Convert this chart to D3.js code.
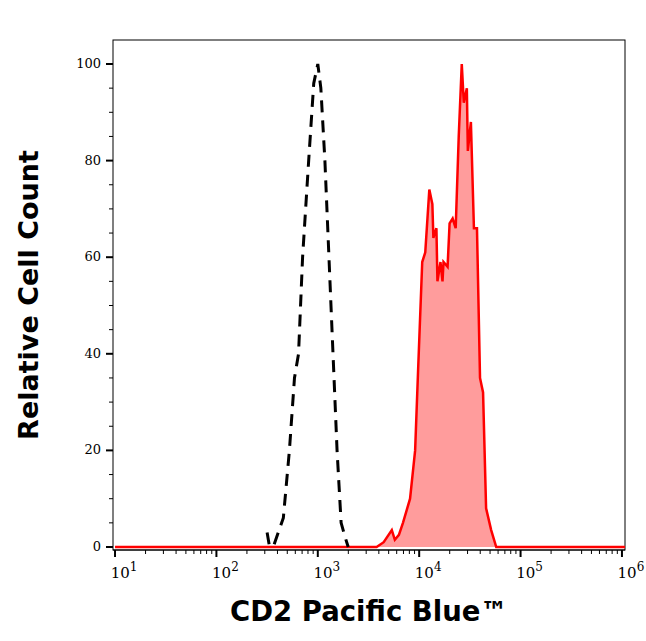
<!DOCTYPE html><html><head><meta charset="utf-8"><script src="https://cdn.jsdelivr.net/npm/d3@7"></script>
<style>body{margin:0;background:#fff}</style></head><body><svg id="c" width="646" height="641"></svg>
<script>
const isoLog=[2.5,2.52,2.56,2.66,2.72,2.77,2.81,2.85,2.91,2.96,3.0,3.03,3.07,3.11,3.15,3.19,3.23,3.27,3.30];
const isoVal=[3,0.5,0,6,20,35,40,60,80,96,100,95,80,60,40,20,5,2,0];
const cdLog=[1.0,1.5,2.0,2.5,3.0,3.4,3.58,3.65,3.73,3.76,3.80,3.84,3.91,3.96,3.99,4.03,4.06,4.10,4.13,4.14,4.17,4.18,4.21,4.23,4.24,4.28,4.30,4.33,4.36,4.39,4.42,4.44,4.47,4.48,4.51,4.54,4.57,4.60,4.63,4.66,4.71,4.76,4.8,5.0,5.5,6.03];
const cdVal=[0,0,0,0,0,0,0,1,3.5,1.5,2.5,5,10,20,37,59,61,74,71,64,66,55,59,55,59,58,67,68,66,85,100,92,95,82,88,66,66,35,32,8,3.5,0,0,0,0,0];
const yTicks=[0,20,40,60,80,100];
const xTicks=[1,2,3,4,5,6];

const svg=d3.select("#c");
const L=113,R=625,T=40,B=550;
const x=d3.scaleLinear().domain([0.98,6.03]).range([L,R]);
const y=d3.scaleLinear().domain([0,100]).range([547,64]);
svg.append("rect").attr("x",L).attr("y",T).attr("width",R-L).attr("height",B-T).attr("fill","none").attr("stroke","#000").attr("stroke-width",1);
const g=svg.append("g");
const area=d3.area().x((d,i)=>x(cdLog[i])).y0(y(0)).y1(d=>y(d));
const line=d3.line().x((d,i)=>x(cdLog[i])).y(d=>y(d));
g.append("path").datum(cdVal).attr("d",area).attr("fill","#ff9c9c");
g.append("path").datum(cdVal).attr("d",line).attr("fill","none").attr("stroke","#ff0000").attr("stroke-width",2.5);
g.append("path").datum(isoVal).attr("d",d3.line().x((d,i)=>x(isoLog[i])).y(d=>y(d))).attr("fill","none").attr("stroke","#000").attr("stroke-width",3).attr("stroke-dasharray","12,8");
const ya=svg.append("g").attr("transform",`translate(${L},0)`);
d3.range(0,101,5).forEach(v=>{ya.append("line").attr("x1",v%20===0?-7:-4).attr("x2",0).attr("y1",y(v)).attr("y2",y(v)).attr("stroke","#000").attr("stroke-width",v%20===0?2:1);});
yTicks.forEach(v=>ya.append("text").attr("x",-12).attr("y",y(v)+4).attr("text-anchor","end").attr("font-family","DejaVu Serif").attr("font-size",13).text(v));
const xa=svg.append("g").attr("transform",`translate(0,${B})`);
xa.append("line").attr("x1",L).attr("x2",R).attr("stroke","#000");
xTicks.forEach(d=>{
 xa.append("line").attr("x1",x(d)).attr("x2",x(d)).attr("y1",0).attr("y2",7).attr("stroke","#000").attr("stroke-width",2);
 if(d<6) for(let k=2;k<10;k++){const p=x(d+Math.log10(k));xa.append("line").attr("x1",p).attr("x2",p).attr("y1",0).attr("y2",4).attr("stroke","#000");}
 const t=xa.append("text").attr("x",x(d)+9).attr("y",28).attr("text-anchor","middle").attr("font-family","DejaVu Serif").attr("font-size",15);
 t.append("tspan").text("10");
 t.append("tspan").attr("dy",-7).attr("font-size",12).text(d);
});
svg.append("text").attr("transform","translate(38,295) rotate(-90)").attr("text-anchor","middle").attr("font-family","DejaVu Sans").attr("font-weight","bold").attr("font-size",27).text("Relative Cell Count");
svg.append("text").attr("x",369).attr("y",621).attr("text-anchor","middle").attr("font-family","DejaVu Sans").attr("font-weight","bold").attr("font-size",27.5).text("CD2 Pacific Blue™");
</script></body></html>
